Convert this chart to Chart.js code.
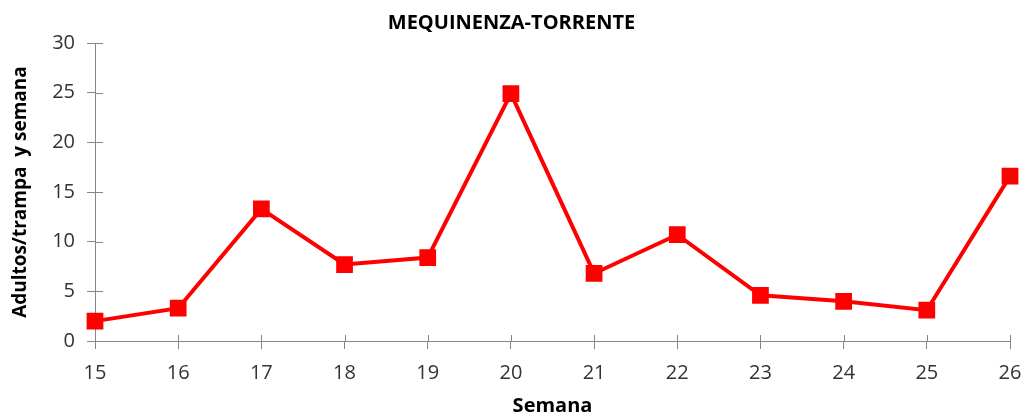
<!DOCTYPE html>
<html>
<head>
<meta charset="utf-8">
<script src="https://cdn.jsdelivr.net/npm/chart.js@4"></script>
<style>
  html, body { margin: 0; padding: 0; background: #fff; }
  #wrap { width: 1023px; height: 418px; }
</style>
</head>
<body>
<div id="wrap"><canvas id="chart" width="1023" height="418"></canvas></div>
<script>
const semanas = ['15', '16', '17', '18', '19', '20', '21', '22', '23', '24', '25', '26'];
const adultos = [2.0, 3.3, 13.3, 7.7, 8.4, 24.9, 6.8, 10.7, 4.6, 4.0, 3.1, 16.6];
const yTicks = [0, 5, 10, 15, 20, 25, 30];

const axisColor = '#868686';
const font = 'Open Sans, Liberation Sans, sans-serif';

// ticks in the original cross the axis line, draw the inner half too
const innerTicks = {
  id: 'innerTicks',
  beforeDatasetsDraw(chart) {
    const { ctx, chartArea, scales } = chart;
    ctx.save();
    ctx.strokeStyle = axisColor;
    ctx.lineWidth = 1;
    ctx.beginPath();
    scales.y.ticks.forEach((t, i) => {
      const y = Math.round(scales.y.getPixelForTick(i)) + 0.5;
      ctx.moveTo(chartArea.left, y);
      ctx.lineTo(chartArea.left + 8, y);
    });
    scales.x.ticks.forEach((t, i) => {
      const x = Math.round(scales.x.getPixelForTick(i)) + 0.5;
      ctx.moveTo(x, chartArea.bottom);
      ctx.lineTo(x, chartArea.bottom - 6);
    });
    ctx.stroke();
    ctx.restore();
  }
};

new Chart(document.getElementById('chart'), {
  type: 'line',
  data: {
    labels: semanas,
    datasets: [{
      label: 'MEQUINENZA-TORRENTE',
      data: adultos,
      borderColor: '#ff0000',
      backgroundColor: '#ff0000',
      borderWidth: 4,
      pointStyle: 'rect',
      pointRadius: 9,
      pointHoverRadius: 9,
      tension: 0,
      fill: false
    }]
  },
  options: {
    responsive: false,
    animation: false,
    layout: { padding: { left: 0, right: 0, top: 0, bottom: 0 } },
    plugins: {
      legend: { display: false },
      tooltip: { enabled: false },
      title: {
        display: true,
        text: 'MEQUINENZA-TORRENTE',
        color: '#000',
        font: { family: font, size: 20, weight: 'bold', lineHeight: 1.2 },
        padding: { top: 11, bottom: 8 }
      }
    },
    scales: {
      x: {
        offset: false,
        grid: { display: true, drawOnChartArea: false, color: axisColor, tickLength: 8 },
        border: { color: axisColor, width: 1 },
        ticks: { color: '#333', font: { family: font, size: 20 }, padding: 12, maxRotation: 0 },
        title: {
          display: true,
          text: 'Semana',
          color: '#000',
          font: { family: font, size: 20, weight: 'bold' },
          padding: { top: 0, bottom: 0 }
        },
        afterFit(scale) {
          scale.height = 77;
          scale.paddingLeft = 0;
          scale.paddingRight = 13;
        }
      },
      y: {
        min: 0,
        max: 30,
        afterBuildTicks(scale) { scale.ticks = yTicks.map(v => ({ value: v })); },
        grid: { display: true, drawOnChartArea: false, color: axisColor, tickLength: 8 },
        border: { color: axisColor, width: 1 },
        ticks: { color: '#333', font: { family: font, size: 20 }, padding: 12 },
        title: {
          display: true,
          text: 'Adultos/trampa  y semana',
          color: '#000',
          font: { family: font, size: 19, weight: 'bold' },
          padding: { top: 9, bottom: 0 }
        },
        afterFit(scale) { scale.width = 95; }
      }
    }
  },
  plugins: [innerTicks]
});
</script>
</body>
</html>
